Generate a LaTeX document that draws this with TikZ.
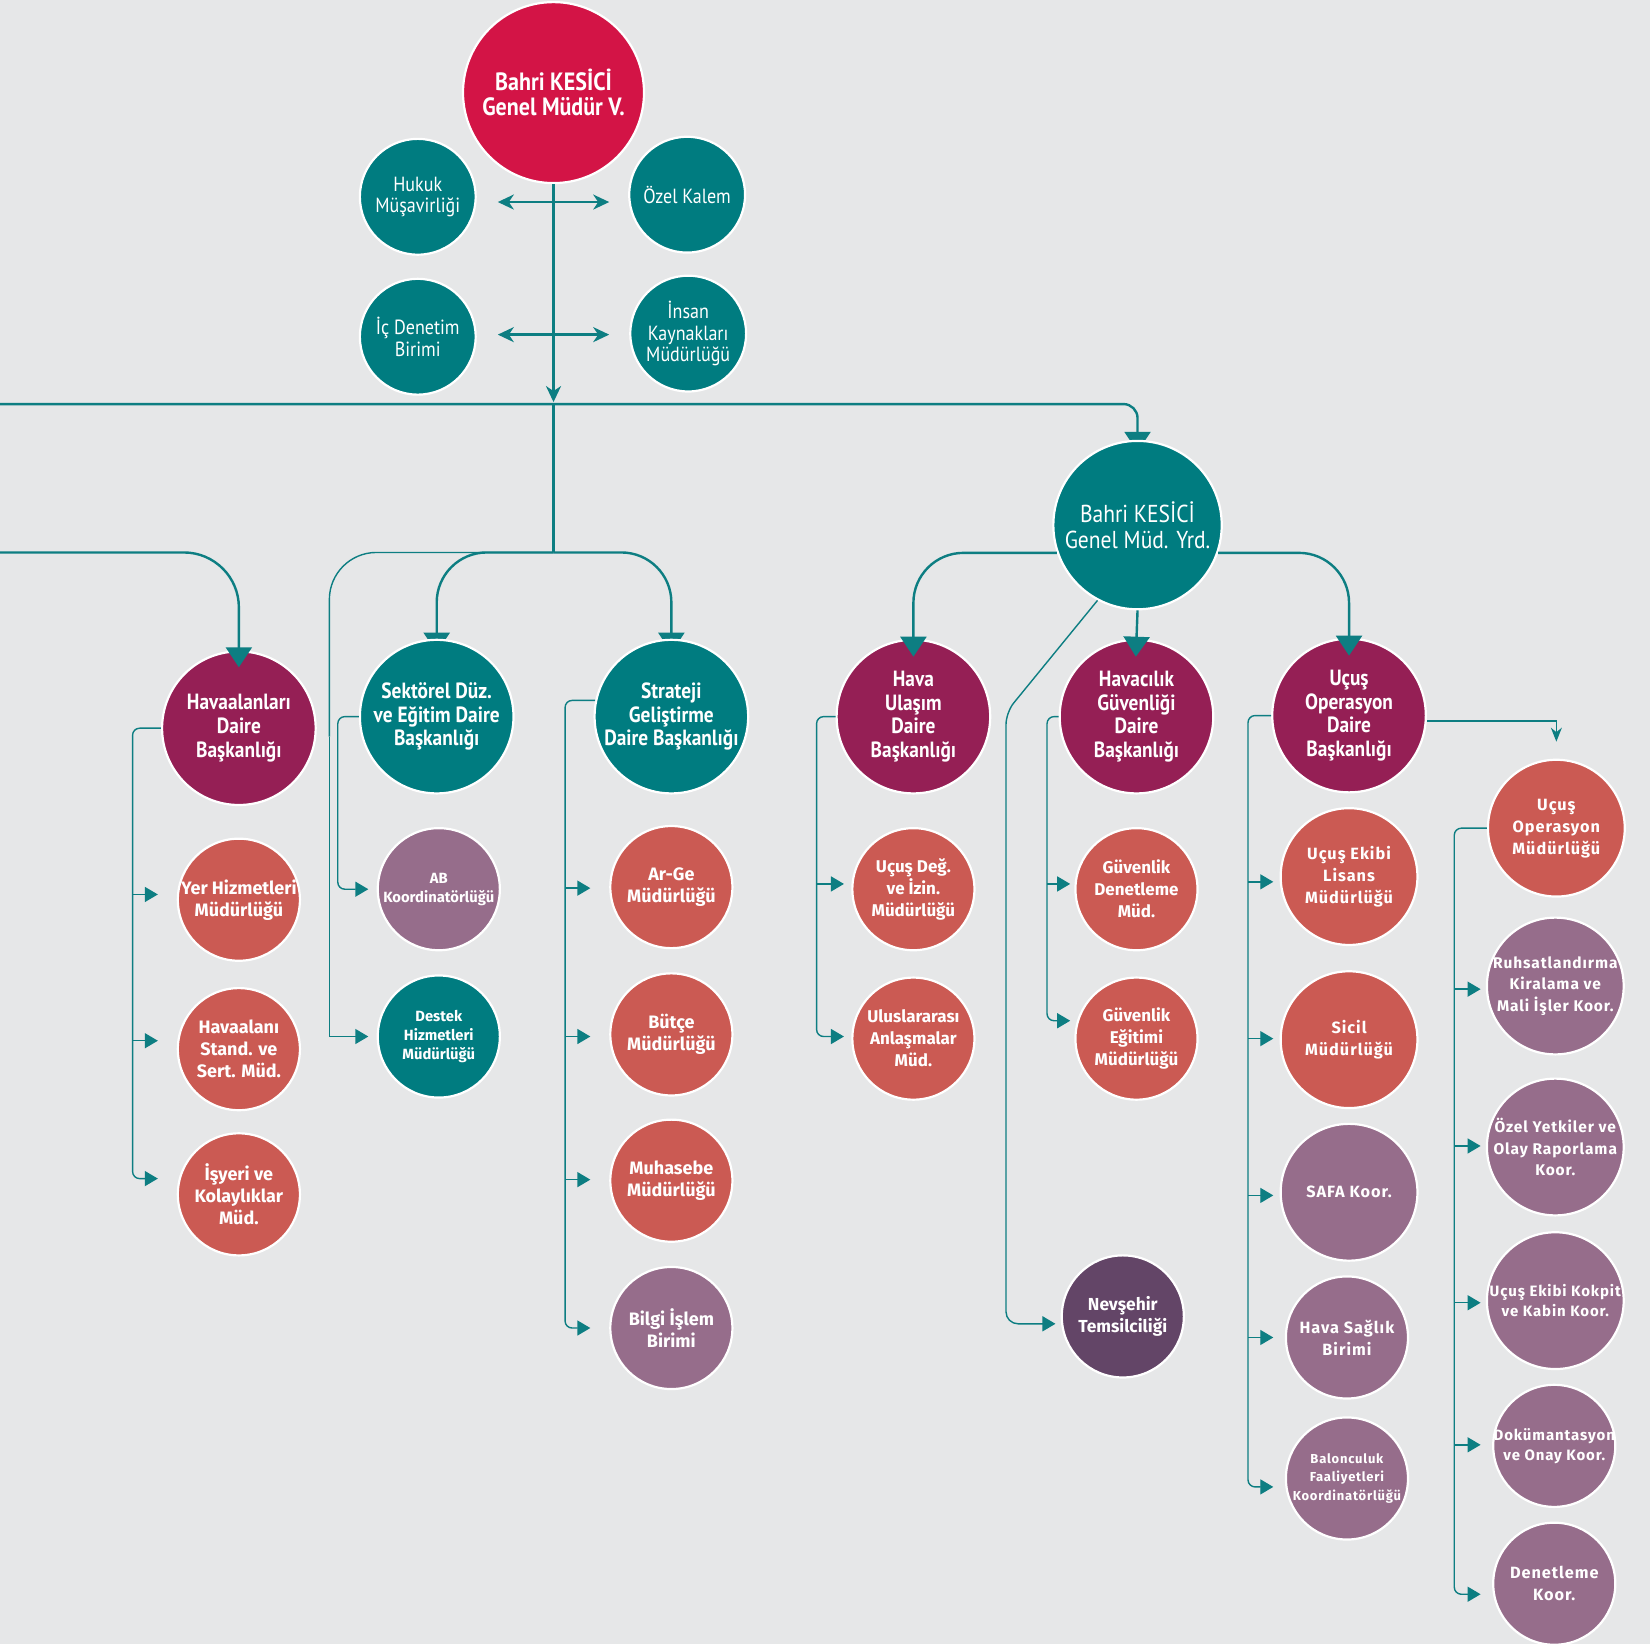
\documentclass[tikz,border=0pt]{standalone}
\usepackage{fontspec}
\setmainfont{Fira Sans}
\newfontfamily\fcond[FakeStretch=0.88]{PT Sans}
\newfontfamily\fwide{Fira Sans}
\newfontfamily\fspaced[LetterSpace=6]{Fira Sans}
\usetikzlibrary{arrows.meta,calc}
\definecolor{bgc}{HTML}{E6E7E8}
\definecolor{crim}{HTML}{D31446}
\definecolor{tealc}{HTML}{007C80}
\definecolor{purpc}{HTML}{951F55}
\definecolor{coralc}{HTML}{CB5A53}
\definecolor{mauvec}{HTML}{966D8B}
\definecolor{dpurpc}{HTML}{634567}
\definecolor{lc}{HTML}{0D7E82}
\pgfdeclarelayer{bg}
\pgfsetlayers{bg,main}
\newcommand\bub[5]{\node[#2] (#1) at (#4) {}; \node[#3] (#1-t) at (#1.center) {#5};}
\newcommand\branch[4]{\path ($(#1.west)+(0,#2)$) coordinate (#1-a);
  \draw[cline,ctip] (#1-a -| #3) -- (#1-a -| #4);}
\newcommand\lastbranch[5]{\path ($(#2.west)+(0,#3)$) coordinate (#2-a);
  \draw[cline,ctip,rounded corners=7pt] (#1) -- (#1 -| #4) -- (#2-a -| #4) -- (#2-a -| #5);}
\begin{document}
\begin{tikzpicture}[x=1.0523pt,y=-1.0523pt,
  bubble/.style={circle, draw=white, line width=2.2pt, inner sep=0pt},
  gmC/.style={bubble, fill=crim, minimum size=181pt},
  smT/.style={bubble, fill=tealc, minimum size=115.8pt},
  yrdC/.style={bubble, fill=tealc, minimum size=168.4pt},
  dP/.style={bubble, fill=purpc, minimum size=153.6pt},
  dT/.style={bubble, fill=tealc, minimum size=153.6pt},
  cC/.style={bubble, fill=coralc, minimum size=122.1pt},
  cM/.style={bubble, fill=mauvec, minimum size=122.1pt},
  cT/.style={bubble, fill=tealc, minimum size=122.1pt},
  cD/.style={bubble, fill=dpurpc, minimum size=122.1pt},
  bC/.style={bubble, fill=coralc, minimum size=136.8pt},
  bM/.style={bubble, fill=mauvec, minimum size=136.8pt},
  txt/.style={align=center, text=white, inner sep=0pt},
  tGM/.style={txt, font=\fcond\bfseries\fontsize{25}{25.5}\selectfont},
  tReg/.style={txt, font=\fcond\fontsize{20.5}{21.5}\selectfont},
  tYrd/.style={txt, font=\fcond\fontsize{24.5}{25.5}\selectfont},
  tD/.style={txt, font=\fcond\bfseries\fontsize{22}{23.7}\selectfont},
  tL/.style={txt, font=\fwide\bfseries\fontsize{18}{22}\selectfont},
  tM/.style={txt, font=\fwide\bfseries\fontsize{17}{22}\selectfont},
  tN/.style={txt, font=\fwide\bfseries\fontsize{17.4}{22.5}\selectfont},
  tS/.style={txt, font=\fwide\bfseries\fontsize{14.8}{19}\selectfont},
  tR/.style={txt, font=\fspaced\bfseries\fontsize{16.3}{22}\selectfont},
  tR2/.style={txt, font=\fspaced\bfseries\fontsize{15.5}{21.6}\selectfont},
  tR3/.style={txt, font=\fspaced\bfseries\fontsize{15}{20}\selectfont},
  tXS/.style={txt, font=\fspaced\bfseries\fontsize{13}{18.5}\selectfont},
  mline/.style={draw=lc, line width=2.4pt},
  cline/.style={draw=lc, line width=1.4pt},
  btip/.style={-{Triangle[length=20pt,width=26pt]}},
  ctip/.style={-{Triangle[length=13pt,width=15pt]}},
  stip/.style={-{Stealth[length=16pt,width=15pt,inset=5pt]}},
  dtip/.style={{Stealth[length=16pt,width=15pt,inset=5pt]}-{Stealth[length=16pt,width=15pt,inset=5pt]}}
]
\useasboundingbox (0,0) rectangle (1568,1562);

% ---------- nodes ----------
\bub{gm}{gmC}{tGM}{526,88}{Bahri KESİCİ\\Genel Müdür V.}
\bub{hukuk}{smT}{tReg}{397,187}{Hukuk\\Müşavirliği}
\bub{ozel}{smT}{tReg}{653,185}{Özel Kalem}
\bub{icd}{smT}{tReg}{397,320}{İç Denetim\\Birimi}
\bub{ik}{smT}{tReg}{654,317}{İnsan\\Kaynakları\\Müdürlüğü}
\bub{yrd}{yrdC}{tYrd}{1081,499}{Bahri KESİCİ\\Genel Müd. Yrd.}

\bub{hdb}{dP}{tD}{227,692}{Havaalanları\\Daire\\Başkanlığı}
\bub{sdb}{dT}{tD}{415,681}{Sektörel Düz.\\ve Eğitim Daire\\Başkanlığı}
\bub{stb}{dT}{tD}{638,681}{Strateji\\Geliştirme\\Daire Başkanlığı}
\bub{hudb}{dP}{tD}{868,681}{Hava\\Ulaşım\\Daire\\Başkanlığı}
\bub{hgdb}{dP}{tD}{1080,681}{Havacılık\\Güvenliği\\Daire\\Başkanlığı}
\bub{uodb}{dP}{tD}{1282,680}{Uçuş\\Operasyon\\Daire\\Başkanlığı}

\bub{yer}{cC}{tL}{227,855}{Yer Hizmetleri\\Müdürlüğü}
\bub{hsm}{cC}{tL}{227,997}{Havaalanı\\Stand. ve\\Sert. Müd.}
\bub{isy}{cC}{tL}{227,1135}{İşyeri ve\\Kolaylıklar\\Müd.}
\bub{ab}{cM}{tS}{417,845}{AB\\Koordinatörlüğü}
\bub{dest}{cT}{tS}{417,985}{Destek\\Hizmetleri\\Müdürlüğü}
\bub{arge}{cC}{tL}{638,843}{Ar-Ge\\Müdürlüğü}
\bub{butce}{cC}{tL}{638,983}{Bütçe\\Müdürlüğü}
\bub{muh}{cC}{tL}{638,1122}{Muhasebe\\Müdürlüğü}
\bub{bilgi}{cM}{tL}{638,1262}{Bilgi İşlem\\Birimi}
\bub{udeg}{cC}{tM}{868,845}{Uçuş Değ.\\ve İzin.\\Müdürlüğü}
\bub{ulus}{cC}{tM}{868,987}{Uluslararası\\Anlaşmalar\\Müd.}
\bub{gden}{cC}{tM}{1080,845}{Güvenlik\\Denetleme\\Müd.}
\bub{gegt}{cC}{tM}{1080,987}{Güvenlik\\Eğitimi\\Müdürlüğü}
\bub{nev}{cD}{tN}{1067,1251}{Nevşehir\\Temsilciliği}
\bub{uel}{bC}{tR}{1282,833}{Uçuş Ekibi\\Lisans\\Müdürlüğü}
\bub{sicil}{bC}{tR}{1282,988}{Sicil\\Müdürlüğü}
\bub{safa}{bM}{tR}{1282,1133}{SAFA Koor.}
\bub{hsb}{cM}{tR}{1280,1271}{Hava Sağlık\\Birimi}
\bub{balon}{cM}{tXS}{1280,1405}{Balonculuk\\Faaliyetleri\\Koordinatörlüğü}
\bub{uom}{bC}{tR}{1479,787}{Uçuş\\Operasyon\\Müdürlüğü}
\bub{ruhs}{bM}{tR2}{1478,937}{Ruhsatlandırma\\Kiralama ve\\Mali İşler Koor.}
\bub{ozy}{bM}{tR2}{1478,1090}{Özel Yetkiler ve\\Olay Raporlama\\Koor.}
\bub{kok}{bM}{tR3}{1478,1236}{Uçuş Ekibi Kokpit\\ve Kabin Koor.}
\bub{dok}{cM}{tR3}{1477,1374}{Dokümantasyon\\ve Onay Koor.}
\bub{den}{cM}{tR}{1477,1505}{Denetleme\\Koor.}

% ---------- coordinates ----------
\coordinate (bus) at (526,384);
\coordinate (j2) at (526,525);
\coordinate (lw1) at (0,384);
\coordinate (lw2) at (0,525);
\coordinate (T1) at (126,0);  \coordinate (X1) at (150,0);
\coordinate (T2) at (321,0);  \coordinate (X2) at (350,0);
\coordinate (T2o) at (313,0); \coordinate (T2m) at (313,700);
\coordinate (T3) at (537,0);  \coordinate (X3) at (561,0);
\coordinate (T4) at (776,0);  \coordinate (X4) at (802,0);
\coordinate (T5) at (995,0);  \coordinate (X5) at (1017,0);
\coordinate (T6) at (1186,0); \coordinate (X6) at (1210,0);
\coordinate (T7) at (1382,0); \coordinate (X7) at (1407,0);
\coordinate (dg) at (956,677); \coordinate (Tn) at (956,0); \coordinate (Xn) at (1003,0);

% ---------- connectors under the circles ----------
\begin{pgfonlayer}{bg}
  \fill[bgc] (0,0) rectangle (1568,1562);
  \draw[mline,btip,rounded corners=14pt,shorten >=-12pt] (lw1) -| (yrd.north);
  \draw[mline,btip,rounded corners=50pt,shorten >=-14pt] (j2) -| (sdb.north);
  \draw[mline,btip,rounded corners=50pt,shorten >=-14pt] (j2) -| (stb.north);
\end{pgfonlayer}

% ---------- connectors on top ----------
\draw[mline,stip,shorten >=2pt] (gm.south) -- (bus);
\draw[mline] (bus) -- (j2);
\draw[mline,dtip] ($(hukuk.east)+(20,5)$) -- ($(ozel.west)+(-18,7)$);
\draw[mline,dtip] ($(icd.east)+(20,-2)$) -- ($(ik.west)+(-19,1)$);

\draw[mline,btip,rounded corners=55pt,shorten >=-17pt] (lw2) -| (hdb.north);
\draw[mline,btip,rounded corners=50pt,shorten >=-18pt] (yrd.199) -| (hudb.north);
\draw[mline,btip,shorten >=-18pt] (yrd.south) -- (hgdb.north);
\draw[mline,btip,rounded corners=50pt,shorten >=-18pt] (yrd.341) -| (uodb.north);

% Destek (outer line)
\draw[cline,rounded corners=47pt] (j2) -| (T2m);
\path ($(dest.west)+(0,0)$) coordinate (dest-a);
\draw[cline,ctip] (T2m) -- (dest-a -| T2o) -- (dest-a -| X2);

% Nevsehir
\path ($(nev.west)+(0,7)$) coordinate (nev-a);
\draw[cline,ctip,rounded corners=12pt] (yrd.242) -- (dg) -- (nev-a -| Tn) -- (nev-a -| Xn);

% Ucus Operasyon Daire -> Mudurluk
\path ($(uodb.east)+(0,5)$) coordinate (uo-e);
\draw[cline,-{Stealth[length=14pt,width=11pt]},shorten >=17pt] (uo-e) -| (uom.north);

% child groups
\branch{yer}{-5}{T1}{X1}
\branch{hsm}{-8}{T1}{X1}
\lastbranch{hdb.west}{isy}{-15}{T1}{X1}

\lastbranch{sdb.west}{ab}{0}{T2}{X2}

\branch{arge}{1}{T3}{X3}
\branch{butce}{2}{T3}{X3}
\branch{muh}{-1}{T3}{X3}
\lastbranch{stb.168}{bilgi}{0}{T3}{X3}

\branch{udeg}{-5}{T4}{X4}
\lastbranch{hudb.west}{ulus}{-2}{T4}{X4}

\branch{gden}{-5}{T5}{X5}
\lastbranch{hgdb.west}{gegt}{-17}{T5}{X5}

\branch{uel}{5}{T6}{X6}
\branch{sicil}{-1}{T6}{X6}
\branch{safa}{3}{T6}{X6}
\branch{hsb}{0}{T6}{X6}
\lastbranch{uodb.west}{balon}{8}{T6}{X6}

\branch{ruhs}{3}{T7}{X7}
\branch{ozy}{-1}{T7}{X7}
\branch{kok}{2}{T7}{X7}
\branch{dok}{-1}{T7}{X7}
\lastbranch{uom.west}{den}{10}{T7}{X7}
\end{tikzpicture}
\end{document}
